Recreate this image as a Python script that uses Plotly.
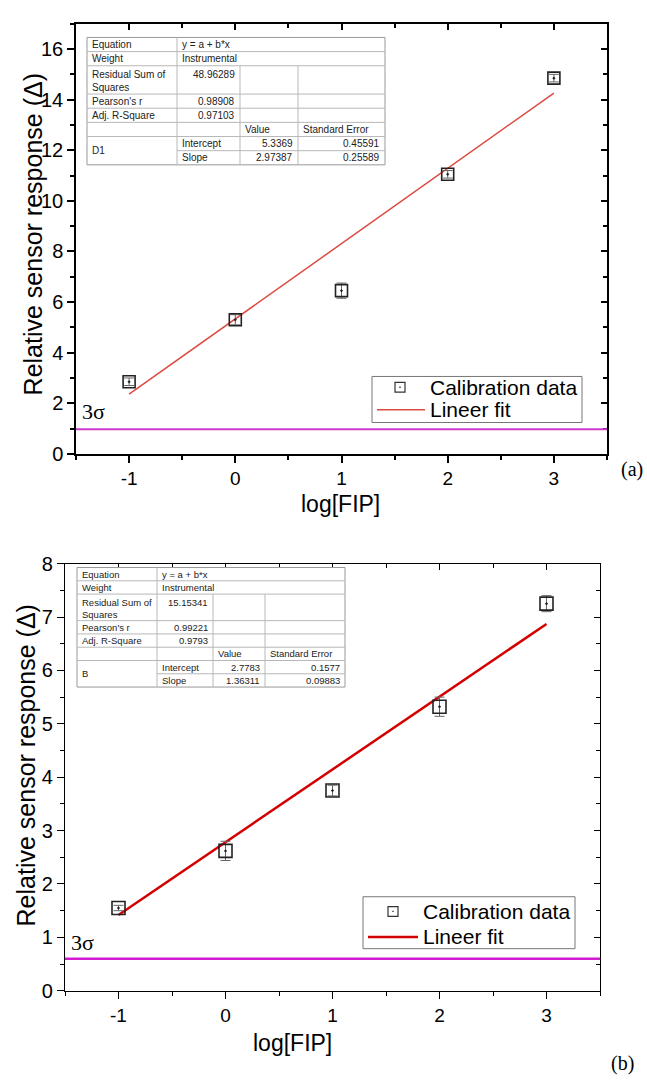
import plotly.graph_objects as go

W, H = 647, 1089

# ---------------- data ----------------
x_vals = [-1, 0, 1, 2, 3]

a_y = [2.85, 5.30, 6.45, 11.05, 14.85]
a_err = [0.15, 0.20, 0.30, 0.15, 0.15]
a_fit_x = [-1, 3]
a_fit_y = [2.36, 14.26]
a_sigma = 0.97

b_y = [1.55, 2.62, 3.75, 5.32, 7.25]
b_err = [0.05, 0.18, 0.10, 0.18, 0.15]
b_fit_x = [-1, 3]
b_fit_y = [1.42, 6.87]
b_sigma = 0.60

x_ticks = [-1, 0, 1, 2, 3]
x_ticktext = ["-1", "0", "1", "2", "3"]
a_yticks = [0, 2, 4, 6, 8, 10, 12, 14, 16]
b_yticks = [0, 1, 2, 3, 4, 5, 6, 7, 8]

legend_labels = ["Calibration data", "Lineer fit"]

a_table_stats = ["y = a + b*x", "Instrumental", "48.96289", "0.98908", "0.97103"]
a_table_name = "D1"
a_table_values = ["5.3369", "2.97387"]
a_table_errors = ["0.45591", "0.25589"]

b_table_stats = ["y = a + b*x", "Instrumental", "15.15341", "0.99221", "0.9793"]
b_table_name = "B"
b_table_values = ["2.7783", "1.36311"]
b_table_errors = ["0.1577", "0.09883"]

ARIAL = "Arial, Liberation Sans, sans-serif"
TIMES = "Times New Roman, Liberation Serif, serif"

A_FIT_COLOR = "#dc4a42"
B_FIT_COLOR = "#d40000"


def px(x):
    return x / W


def py(y):
    return 1 - y / H


fig = go.Figure()

# ---------------- traces ----------------
fig.add_trace(go.Scatter(
    x=a_fit_x, y=a_fit_y, mode="lines", name=legend_labels[1],
    line=dict(color=A_FIT_COLOR, width=1.5), xaxis="x", yaxis="y", showlegend=False))
fig.add_trace(go.Scatter(
    x=x_vals, y=a_y, mode="markers", name=legend_labels[0],
    marker=dict(symbol="square-open-dot", size=12, color="#222", line=dict(width=1.6)),
    error_y=dict(type="data", array=a_err, color="#666", thickness=1, width=5),
    xaxis="x", yaxis="y", showlegend=False))

fig.add_trace(go.Scatter(
    x=b_fit_x, y=b_fit_y, mode="lines", name=legend_labels[1],
    line=dict(color=B_FIT_COLOR, width=2.5), xaxis="x2", yaxis="y2", showlegend=False))
fig.add_trace(go.Scatter(
    x=x_vals, y=b_y, mode="markers", name=legend_labels[0],
    marker=dict(symbol="square-open-dot", size=13, color="#222", line=dict(width=1.6)),
    error_y=dict(type="data", array=b_err, color="#666", thickness=1, width=5),
    xaxis="x2", yaxis="y2", showlegend=False))

# empty traces that carry the mirrored (inside) tick axes
fig.add_trace(go.Scatter(x=[None], y=[None], xaxis="x3", yaxis="y3", showlegend=False, hoverinfo="skip"))
fig.add_trace(go.Scatter(x=[None], y=[None], xaxis="x4", yaxis="y4", showlegend=False, hoverinfo="skip"))

# ---------------- axes ----------------
A_X = [px(76), px(607)]
A_Y = [py(452), py(13)]
B_X = [px(65), px(600)]
B_Y = [py(1000), py(564)]


def main_axis(domain, rng, tickvals, ticktext, minor_dtick, anchor, fs, lw):
    d = dict(domain=domain, range=rng, tickvals=tickvals, ticks="outside", ticklen=7,
             tickwidth=lw, tickcolor="black", showline=True, linecolor="black", linewidth=lw,
             mirror=True, showgrid=False, zeroline=False, anchor=anchor,
             tickfont=dict(family=ARIAL, size=fs, color="black"),
             minor=dict(ticks="outside", ticklen=4, tickwidth=lw, tickcolor="black",
                        dtick=minor_dtick, showgrid=False))
    if ticktext is not None:
        d["ticktext"] = ticktext
    return d


def mirror_axis(domain, rng, tickvals, minor_dtick, overlay, side, anchor, lw):
    return dict(domain=domain, range=rng, tickvals=tickvals, ticks="inside", ticklen=6,
                tickwidth=lw, tickcolor="black", showline=False, showgrid=False, zeroline=False,
                showticklabels=False, overlaying=overlay, side=side, anchor=anchor,
                minor=dict(ticks="inside", ticklen=4, tickwidth=lw, tickcolor="black",
                           dtick=minor_dtick, showgrid=False))


fig.update_layout(
    xaxis=main_axis(A_X, [-1.5, 3.5], x_ticks, x_ticktext, 0.5, "y", 19, 1.5),
    yaxis=main_axis(A_Y, [0, 17], a_yticks, None, 1, "x", 20, 1.5),
    xaxis2=main_axis(B_X, [-1.5, 3.5], x_ticks, x_ticktext, 0.5, "y2", 19, 1.2),
    yaxis2=main_axis(B_Y, [0, 8], b_yticks, None, 0.5, "x2", 20, 1.2),
    xaxis3=mirror_axis(A_X, [-1.5, 3.5], x_ticks, 0.5, "x", "top", "y3", 1.5),
    yaxis3=mirror_axis(A_Y, [0, 17], a_yticks, 1, "y", "right", "x3", 1.5),
    xaxis4=mirror_axis(B_X, [-1.5, 3.5], x_ticks, 0.5, "x2", "top", "y4", 1.2),
    yaxis4=mirror_axis(B_Y, [0, 8], b_yticks, 0.5, "y2", "right", "x4", 1.2),
)

shapes = []
ann = []

# ---------------- 3 sigma lines ----------------
shapes.append(dict(type="line", xref="x domain", yref="y", x0=0, x1=1, y0=a_sigma, y1=a_sigma,
                   line=dict(color="#cc3acb", width=2)))
shapes.append(dict(type="line", xref="x2 domain", yref="y2", x0=0, x1=1, y0=b_sigma, y1=b_sigma,
                   line=dict(color="#d21ad0", width=2.5)))


def text(t, x, y, size, family=ARIAL, xa="center", ya="middle", angle=0, color="black"):
    ann.append(dict(text=t, x=px(x), y=py(y), xref="paper", yref="paper", xanchor=xa, yanchor=ya,
                    textangle=angle, showarrow=False, align="left",
                    font=dict(family=family, size=size, color=color)))


text("3σ", 80, 424, 22, TIMES, xa="left", ya="bottom")
text("3σ", 69, 965, 22, TIMES, xa="left", ya="bottom")

# axis titles
text("Relative sensor response (Δ)", 33, 228, 25, angle=-90)
text("Relative sensor response (Δ)", 26, 770, 25, angle=-90)
text("log[FIP]", 340, 503, 23)
text("log[FIP]", 292, 1053, 23)
text("(a)", 632, 468, 20, TIMES)
text("(b)", 622, 1074, 20, TIMES)


# ---------------- legends (drawn) ----------------
def draw_legend(box, marker_c, line_x, line_y, text_x, fit_color, fit_w, fs):
    shapes.append(dict(type="rect", xref="paper", yref="paper", x0=px(box[0]), x1=px(box[1]),
                       y0=py(box[2]), y1=py(box[3]), line=dict(color="#777", width=1),
                       fillcolor="white", layer="above"))
    mx, my = marker_c
    s = 5
    shapes.append(dict(type="rect", xref="paper", yref="paper", x0=px(mx - s), x1=px(mx + s),
                       y0=py(my - s), y1=py(my + s), line=dict(color="#333", width=1.2), layer="above"))
    shapes.append(dict(type="rect", xref="paper", yref="paper", x0=px(mx - 0.7), x1=px(mx + 0.7),
                       y0=py(my - 0.7), y1=py(my + 0.7), line=dict(width=0), fillcolor="#333",
                       layer="above"))
    shapes.append(dict(type="line", xref="paper", yref="paper", x0=px(line_x[0]), x1=px(line_x[1]),
                       y0=py(line_y), y1=py(line_y), line=dict(color=fit_color, width=fit_w),
                       layer="above"))
    text(legend_labels[0], text_x, my, fs, xa="left")
    text(legend_labels[1], text_x, line_y, fs, xa="left")


draw_legend([372, 582, 373, 420], (400, 384), (377, 425), 407, 428, A_FIT_COLOR, 1.5, 21)
draw_legend([363, 575, 904, 957], (393, 919), (368, 418), 945, 421, B_FIT_COLOR, 2.5, 21)


# ---------------- fit tables ----------------
def draw_table(cols, top, bottom, stats, name, values, errors, fs):
    unit = (bottom - top) / 9.0
    rows = [top + unit * k for k in [0, 1, 2, 4, 5, 6, 7, 8, 9]]
    grid = "#b8b8b8"
    shapes.append(dict(type="rect", xref="paper", yref="paper", x0=px(cols[0]), x1=px(cols[4]),
                       y0=py(top), y1=py(bottom), line=dict(color="#999", width=1), fillcolor="white"))
    for i, r in enumerate(rows[1:-1], start=1):
        x0 = cols[1] if i == 7 else cols[0]
        shapes.append(dict(type="line", xref="paper", yref="paper", x0=px(x0), x1=px(cols[4]),
                           y0=py(r), y1=py(r), line=dict(color=grid, width=1)))
    shapes.append(dict(type="line", xref="paper", yref="paper", x0=px(cols[1]), x1=px(cols[1]),
                       y0=py(top), y1=py(bottom), line=dict(color=grid, width=1)))
    for c in cols[2:4]:
        shapes.append(dict(type="line", xref="paper", yref="paper", x0=px(c), x1=px(c),
                           y0=py(rows[2]), y1=py(bottom), line=dict(color=grid, width=1)))

    def t(s, x, y, xa="left", ya="middle"):
        text(s, x, y, fs, xa=xa, ya=ya, color="#222")

    pad = 3
    labels = ["Equation", "Weight", "Residual Sum of<br>Squares", "Pearson's r", "Adj. R-Square"]
    for i, lab in enumerate(labels):
        if i == 2:
            t(lab, cols[0] + pad, rows[2] + 1, ya="top")
        else:
            t(lab, cols[0] + pad, (rows[i] + rows[i + 1]) / 2)
    t(stats[0], cols[1] + pad, (rows[0] + rows[1]) / 2)
    t(stats[1], cols[1] + pad, (rows[1] + rows[2]) / 2)
    t(stats[2], cols[2] - pad, rows[2] + 1, xa="right", ya="top")
    t(stats[3], cols[2] - pad, (rows[3] + rows[4]) / 2, xa="right")
    t(stats[4], cols[2] - pad, (rows[4] + rows[5]) / 2, xa="right")
    t("Value", cols[2] + pad, (rows[5] + rows[6]) / 2)
    t("Standard Error", cols[3] + pad, (rows[5] + rows[6]) / 2)
    t(name, cols[0] + pad, (rows[6] + rows[8]) / 2)
    for k, lab in enumerate(["Intercept", "Slope"]):
        yc = (rows[6 + k] + rows[7 + k]) / 2
        t(lab, cols[1] + pad, yc)
        t(values[k], cols[3] - pad, yc, xa="right")
        t(errors[k], cols[4] - pad, yc, xa="right")


draw_table([87, 177, 240, 298, 385], 27, 157, a_table_stats, a_table_name, a_table_values, a_table_errors, 10)
draw_table([77, 157, 213, 265, 345], 568, 690, b_table_stats, b_table_name, b_table_values, b_table_errors, 9.5)

fig.update_layout(
    width=W, height=H, margin=dict(l=0, r=0, t=0, b=0),
    paper_bgcolor="white", plot_bgcolor="white",
    annotations=ann, shapes=shapes, showlegend=False,
)

fig.write_html("out.html", config={"displayModeBar": False},
               post_script="document.body.style.margin='0';")
